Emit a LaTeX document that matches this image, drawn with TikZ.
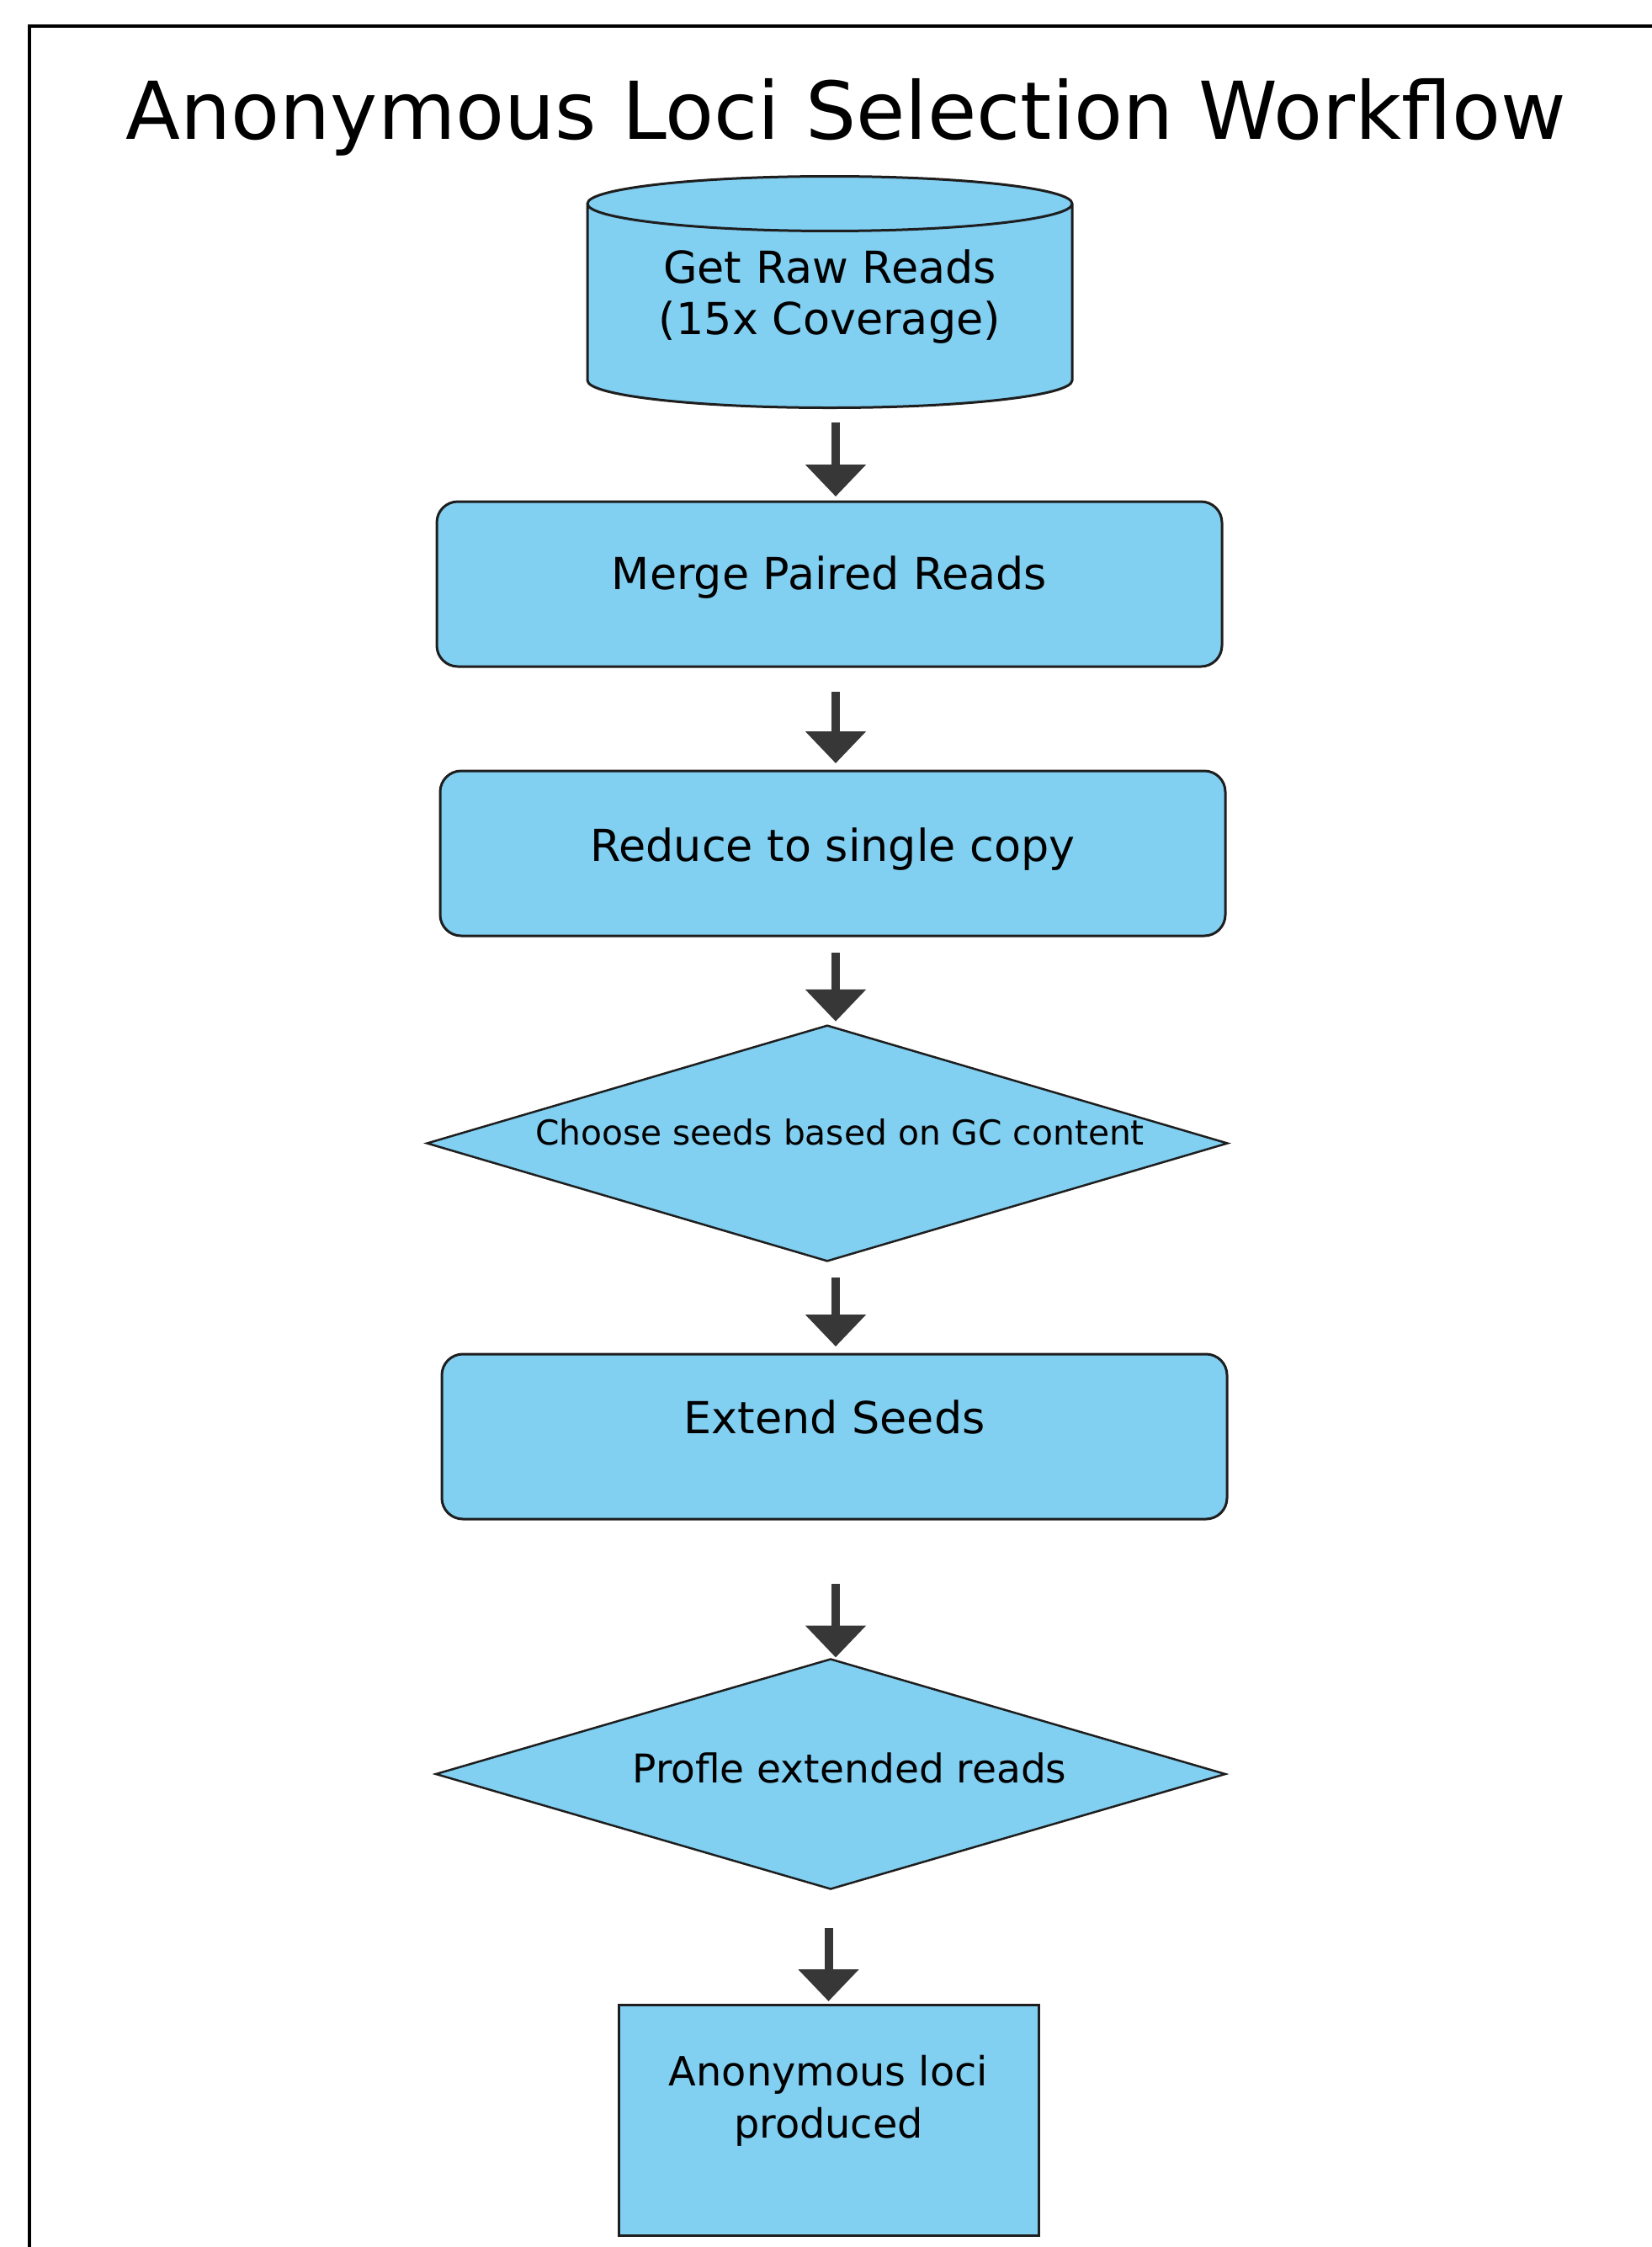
\documentclass[tikz,border=0pt]{standalone}
\usepackage{fontspec}
\setmainfont{DejaVu Sans}
\usetikzlibrary{shapes.geometric,arrows.meta}

\definecolor{skyfill}{RGB}{129,207,241}
\definecolor{edgegray}{RGB}{30,30,30}
\definecolor{arrowgray}{RGB}{55,55,55}
\def\cF{skyfill}
\def\cE{edgegray}
\def\cA{arrowgray}
\newcommand\stepfont{\fontsize{14.9}{17.4}\selectfont}

\tikzstyle{stepbox} = [draw=\cE, fill=\cF, rectangle, rounded corners=0.25cm,
                       line width=0.03cm, minimum width=9.33cm,
                       minimum height=1.96cm, inner sep=0mm, outer sep=0mm,
                       font=\stepfont]
\tikzstyle{choice} = [draw=\cE, fill=\cF, diamond, aspect=3.4,
                      line width=0.025cm, minimum width=9.38cm,
                      minimum height=2.73cm, inner sep=0mm, outer sep=0mm]
\tikzstyle{store} = [draw=\cE, fill=\cF, cylinder, shape border rotate=90,
                     aspect=0.16, line width=0.03cm, minimum width=5.76cm,
                     minimum height=2.75cm, inner sep=0mm, outer sep=0mm,
                     align=center, font=\stepfont]
\tikzstyle{flow} = [draw=\cA, line width=0.10cm,
                    -{Triangle[length=0.38cm,width=0.70cm]}]

\begin{document}
\begin{tikzpicture}
\useasboundingbox (0,0) rectangle (19.63,-26.70);

% frame
\draw[line width=0.035cm] (0.35,-26.70) -- (0.35,-0.31) -- (19.63,-0.31);

\node[anchor=base] at (10.05,-1.65) (title)
     {\fontsize{27}{32}\selectfont Anonymous Loci Selection Workflow};

\node[store,text depth=0.33cm] at (9.86,-3.64) (raw)
     {Get Raw Reads\\(15x Coverage)};

\node[stepbox,text depth=0.27cm] at (9.855,-6.94) (merge) {Merge Paired Reads};
\node[stepbox,text depth=0.20cm] at (9.895,-10.14) (reduce) {Reduce to single copy};
\node[choice,text depth=0.27cm,font=\fontsize{11.6}{14}\selectfont]
     at (9.83,-13.585) (seeds) {\hspace*{0.3cm}Choose seeds based on GC content};
\node[stepbox,text depth=0.46cm] at (9.915,-17.07) (extend) {Extend Seeds};
\node[choice,text depth=0.14cm,font=\fontsize{13.4}{16}\selectfont]
     at (9.87,-21.08) (profile) {\hspace*{0.45cm}Profle extended reads};
\node[stepbox,rounded corners=0cm,minimum width=4.99cm,minimum height=2.74cm,
      align=center,text depth=0.55cm,font=\fontsize{13.6}{17.6}\selectfont]
     at (9.845,-25.19) (loci) {Anonymous loci\\produced};

% arrows
\coordinate (axis) at (9.93,0);
\draw[flow,shorten <=0.17cm,shorten >=0.06cm]
     (raw.south -| axis) -- (merge.north -| axis);
\draw[flow,shorten <=0.30cm,shorten >=0.09cm]
     (merge.south -| axis) -- (reduce.north -| axis);
\draw[flow,shorten <=0.20cm,shorten >=0.05cm]
     (reduce.south -| axis) -- (seeds.north -| axis);
\draw[flow,shorten <=0.20cm,shorten >=0.09cm]
     (seeds.south -| axis) -- (extend.north -| axis);
\draw[flow,shorten <=0.77cm,shorten >=0.02cm]
     (extend.south -| axis) -- (profile.north -| axis);
\draw[flow,shorten <=0.46cm,shorten >=0.04cm]
     (profile.south -| loci.north) -- (loci.north);

\end{tikzpicture}
\end{document}
